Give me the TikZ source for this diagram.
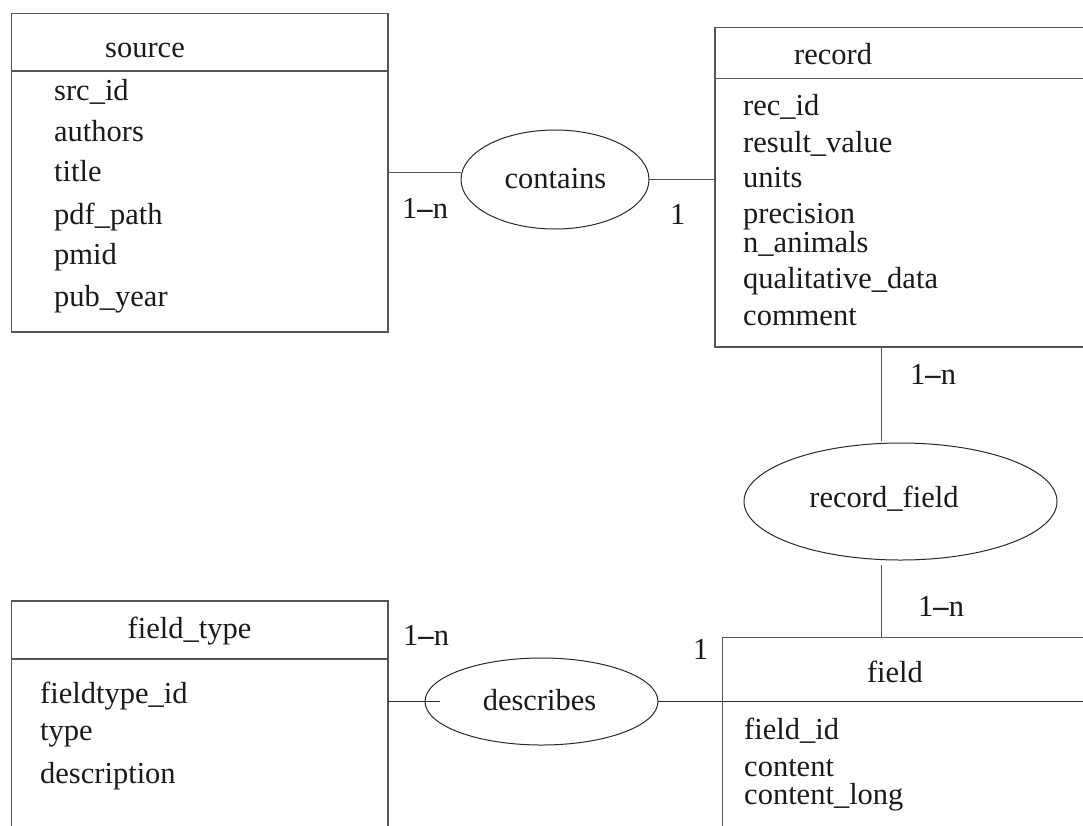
\documentclass[tikz,border=0pt]{standalone}
\usepackage{fontspec}
\setmainfont{Liberation Serif}
\usetikzlibrary{shapes.geometric}
\definecolor{boxline}{HTML}{555555}
\definecolor{ellline}{HTML}{2A2A2A}
\definecolor{ink}{HTML}{1A1A1A}
\newcommand{\card}{1\textbf{–}n}
\begin{document}
\begin{tikzpicture}[x=1pt,y=-1pt,
  entity/.style={draw=boxline,line width=1.3pt,rectangle,anchor=north west,inner sep=0pt,outer sep=0pt},
  rel/.style={draw=ellline,line width=1pt,ellipse,inner sep=0pt,outer sep=0pt},
  txt/.style={inner sep=0pt,text=ink,font=\fontsize{30.5}{36}\selectfont,yshift=-1.5pt},
  attr/.style={txt,anchor=base west},
  ttl/.style={txt,anchor=base},
  conn/.style={draw=boxline,line width=1.3pt},
  rconn/.style={draw=ellline,line width=1.1pt}]
\useasboundingbox (0,0) rectangle (1083,825);
\clip (0,0) rectangle (1083,825);
\fill[white] (0,0) rectangle (1083,825);

% entities
\node[entity,minimum width=376.3pt,minimum height=318.7pt] (source) at (11.7,13.3) {};
\node[entity,minimum width=400pt,minimum height=319.3pt] (record) at (715,27.7) {};
\node[entity,minimum width=400pt,minimum height=250pt] (field) at (722.7,637.3) {};
\node[entity,minimum width=376.3pt,minimum height=260pt] (ftype) at (11.7,601) {};

% header separators
\draw[conn] ([yshift=-57.7pt]source.north west) -- ([yshift=-57.7pt]source.north east);
\draw[conn] ([yshift=-50.6pt]record.north west) -- ([yshift=-50.6pt]record.north east);
\draw[rconn] ([yshift=-64.4pt]field.north west) -- ([yshift=-64.4pt]field.north east);
\draw[conn] ([yshift=-58pt]ftype.north west) -- ([yshift=-58pt]ftype.north east);

% relationships
\node[rel,minimum width=188pt,minimum height=99pt] (contains) at (555,179.5) {};
\node[rel,minimum width=313pt,minimum height=117pt] (recfield) at (900.5,501.5) {};
\node[rel,minimum width=233pt,minimum height=87pt] (describes) at (541.5,701.5) {};

% connectors
\draw[conn] (source.east) -- (source.east -| contains.west);
\draw[conn] (contains.east) -- (contains.east -| record.west);
\coordinate (rfTop) at (881.7,441);
\draw[conn] (rfTop |- record.south) -- (rfTop);
\coordinate (rfBot) at (881.7,565);
\draw[conn] (rfBot) -- (rfBot |- field.north);
\coordinate (descIn) at (440,701.7);
\draw[rconn] (descIn -| ftype.east) -- (descIn);
\draw[rconn] (describes.east) -- (describes.east -| field.west);

% source
\node[attr] (tsource) at (105,56) {source};
\node[attr] (s1) at (54,99.3) {src\_id};
\node[attr] (s2) at (54,140) {authors};
\node[attr] (s3) at (54,180) {title};
\node[attr] (s4) at (54,222.5) {pdf\_path};
\node[attr] (s5) at (54,263) {pmid};
\node[attr] (s6) at (54,305) {pub\_year};

% record
\node[attr] (trecord) at (794,63) {record};
\node[attr] (r1) at (743,114) {rec\_id};
\node[attr] (r2) at (743,150.5) {result\_value};
\node[attr] (r3) at (743,186) {units};
\node[attr] (r4) at (743,221.7) {precision};
\node[attr] (r5) at (743,250.5) {n\_animals};
\node[attr] (r6) at (743,287.3) {qualitative\_data};
\node[attr] (r7) at (743,324) {comment};

% field_type
\node[ttl] (tftype) at (189.5,636.7) {field\_type};
\node[attr] (f1) at (40,701.7) {fieldtype\_id};
\node[attr] (f2) at (40,739) {type};
\node[attr] (f3) at (40,781.7) {description};

% field
\node[ttl] (tfield) at (895,680.7) {field};
\node[attr] (g1) at (744,738) {field\_id};
\node[attr] (g2) at (744,775) {content};
\node[attr] (g3) at (744,803) {content\_long};

% relationship labels
\node[ttl] (lcontains) at (555.5,187) {contains};
\node[ttl] (lrecfield) at (884,506) {record\_field};
\node[ttl] (ldescribes) at (539.5,709) {describes};

% cardinalities
\node[attr] (c1) at (402,217) {\card};
\node[attr] (c2) at (670,223) {1};
\node[attr] (c3) at (910,383) {\card};
\node[attr] (c4) at (918,615) {\card};
\node[attr] (c5) at (693,658) {1};
\node[attr] (c6) at (403,644) {\card};
\end{tikzpicture}
\end{document}
